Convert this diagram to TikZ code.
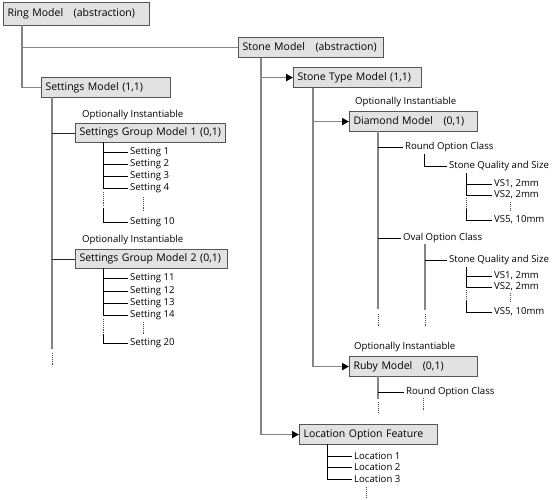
\documentclass[tikz,border=0pt]{standalone}
\usepackage{fontspec}
\setmainfont{Open Sans}
\usetikzlibrary{arrows.meta}
\definecolor{boxfill}{HTML}{E2E2E2}
\definecolor{boxline}{HTML}{555555}
\definecolor{trunkgray}{HTML}{858585}
\tikzset{
  box/.style={draw=boxline, fill=boxfill, line width=1.1pt, anchor=north west,
    inner xsep=4pt, inner ysep=0pt, text width=#1, align=left,
    minimum height=20pt, font=\fontsize{10.5}{12}\selectfont},
  leaf/.style={anchor=west, inner xsep=2pt, inner ysep=0pt, font=\fontsize{9.6}{10}\selectfont},
  note/.style={anchor=west, inner sep=0pt, font=\fontsize{9.6}{10}\selectfont},
  trunk/.style={draw=trunkgray, line width=1.7pt},
  joint/.style={draw=black!85, line width=0.9pt},
  leafline/.style={draw=black, line width=0.7pt},
  dots/.style={draw=black!70, line width=0.7pt, dash pattern=on 0.8pt off 1.1pt},
  tip/.style={-{Triangle[length=7pt, width=7pt, color=black]}}
}
\begin{document}
\begin{tikzpicture}[x=1pt, y=-1pt]
\useasboundingbox (0,0) rectangle (553,499);

% models
\node[box=138, minimum height=23pt] (ring) at (3,2) {Ring Model \ \ (abstraction)};
\node[box=137] (stone) at (238,37) {Stone Model \ \ (abstraction)};
\node[box=121] (settings) at (41,77) {Settings Model (1,1)};
\node[box=142, minimum height=19pt] (group1) at (75,123) {Settings Group Model 1 (0,1)};
\node[box=144, minimum height=19pt] (group2) at (75,249) {Settings Group Model 2 (0,1)};
\node[box=120] (stonetype) at (293,67) {Stone Type Model (1,1)};
\node[box=120] (diamond) at (349,111) {Diamond Model \ \ (0,1)};
\node[box=120] (ruby) at (349,356) {Ruby Model \ \ (0,1)};
\node[box=130] (location) at (299,424) {Location Option Feature};

\node[note] (opt1) at (82,115) {Optionally Instantiable};
\node[note] (opt2) at (82,240) {Optionally Instantiable};
\node[note] (opt3) at (355,102) {Optionally Instantiable};
\node[note] (opt4) at (354,347) {Optionally Instantiable};

% ring model
\coordinate (rt) at (22,25);
\draw[trunk] (rt) |- (settings.west);
\draw[trunk] (rt |- stone.west) -- (stone.west);

% settings model
\coordinate (st) at (52,97);
\coordinate (stend) at (52,349);
\draw[trunk] (st) -- (stend);
\draw[dots] (52,353) -- (52,365);
\draw[joint] (st |- group1.west) -- (group1.west);
\draw[joint] (st |- group2.west) -- (group2.west);

\coordinate (g1t) at (103,142);
\foreach \n/\y in {1/152,2/164,3/176,4/188,10/222} {
  \node[leaf] (set\n) at (128,\y) {Setting \n};
  \draw[leafline] (g1t |- set\n.west) -- (set\n.west);
}
\draw[leafline] (g1t) -- (g1t |- set4.west);
\draw[dots] (103,192) -- (103,207);
\draw[leafline] (103,208) -- (g1t |- set10.west);
\draw[dots] (143,197) -- (143,211);

\coordinate (g2t) at (103,268);
\foreach \n/\y in {11/278,12/291,13/303,14/315,20/343} {
  \node[leaf] (set\n) at (128,\y) {Setting \n};
  \draw[leafline] (g2t |- set\n.west) -- (set\n.west);
}
\draw[leafline] (g2t) -- (g2t |- set14.west);
\draw[dots] (103,319) -- (103,333);
\draw[leafline] (103,334) -- (g2t |- set20.west);
\draw[dots] (143,322) -- (143,334);

% stone model
\coordinate (stt) at (261,58);
\draw[trunk, tip] (stt) |- (location.west);
\draw[trunk, tip] (stt |- stonetype.west) -- (stonetype.west);

\coordinate (tt) at (313,88);
\draw[trunk, tip] (tt) |- (ruby.west);
\draw[trunk, tip] (tt |- diamond.west) -- (diamond.west);

% diamond model
\coordinate (dt) at (378,131);
\draw[trunk] (dt) -- (378,309);
\draw[dots] (378,314) -- (378,326);

\node[leaf] (round1) at (403,147) {Round Option Class};
\draw[leafline] (dt |- round1.west) -- (round1.west);
\coordinate (r1t) at (424,154);
\node[leaf] (qual1) at (447,166) {Stone Quality and Size};
\draw[leafline] (r1t) |- (qual1.west);

\coordinate (q1t) at (466,173);
\node[leaf] (vs1a) at (492,184) {VS1, 2mm};
\node[leaf] (vs2a) at (492,195) {VS2, 2mm};
\node[leaf] (vs5a) at (492,220) {VS5, 10mm};
\draw[leafline] (q1t) |- (vs2a.west);
\draw[leafline] (q1t |- vs1a.west) -- (vs1a.west);
\draw[dots] (466,198) -- (466,208);
\draw[leafline] (466,209) |- (vs5a.west);
\draw[dots] (510,202) -- (510,211);

\node[leaf] (oval) at (401,238) {Oval Option Class};
\draw[leafline] (dt |- oval.west) -- (oval.west);
\coordinate (ot) at (425,244);
\draw[trunk] (ot) -- (425,310);
\draw[dots] (425,314) -- (425,326);
\node[leaf] (qual2) at (447,260) {Stone Quality and Size};
\draw[leafline] (ot |- qual2.west) -- (qual2.west);

\coordinate (q2t) at (466,267);
\node[leaf] (vs1b) at (492,276) {VS1, 2mm};
\node[leaf] (vs2b) at (492,287) {VS2, 2mm};
\node[leaf] (vs5b) at (492,312) {VS5, 10mm};
\draw[leafline] (q2t) |- (vs2b.west);
\draw[leafline] (q2t |- vs1b.west) -- (vs1b.west);
\draw[dots] (466,290) -- (466,300);
\draw[leafline] (466,301) |- (vs5b.west);
\draw[dots] (510,293) -- (510,302);

% ruby model
\coordinate (rbt) at (378,376);
\draw[trunk] (rbt) -- (378,399);
\draw[dots] (378,402) -- (378,413);
\node[leaf] (round2) at (404,392) {Round Option Class};
\draw[leafline] (rbt |- round2.west) -- (round2.west);
\draw[dots] (423,398) -- (423,410);

% location option feature
\coordinate (lt) at (327,444);
\foreach \n/\y in {1/456,2/467,3/479} {
  \node[leaf] (loc\n) at (352,\y) {Location \n};
}
\draw[leafline] (lt) |- (loc3.west);
\draw[leafline] (lt |- loc1.west) -- (loc1.west);
\draw[leafline] (lt |- loc2.west) -- (loc2.west);
\draw[dots] (366,487) -- (366,498);
\end{tikzpicture}
\end{document}
